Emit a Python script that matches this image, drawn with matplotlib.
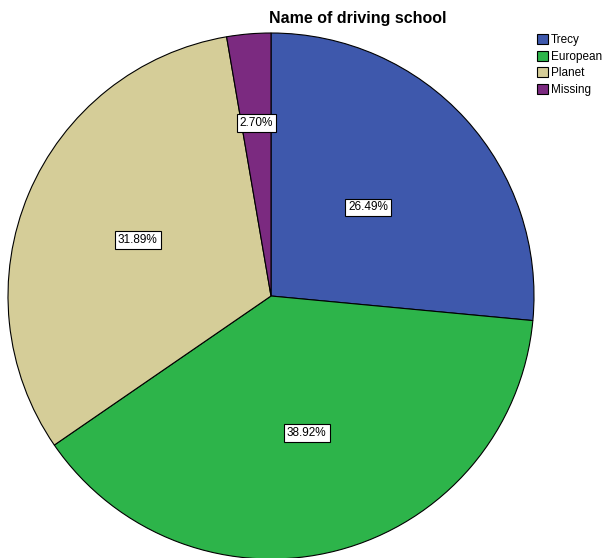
import numpy as np
import matplotlib
matplotlib.use("Agg")
import matplotlib.pyplot as plt

plt.rcParams["font.family"] = ["Liberation Sans", "DejaVu Sans"]

schools = ["Trecy", "European", "Planet", "Missing"]
percents = [26.49, 38.92, 31.89, 2.70]
colors = ["#3e58ac", "#2db44a", "#d5cd98", "#7b2a80"]
# radial position of each percentage box (fraction of the radius)
label_dist = [0.50, 0.54, 0.55, 0.66]

fig = plt.figure(figsize=(6.05, 5.58), dpi=100)
ax = fig.add_axes([8 / 605, (558 - 296 - 263) / 558, 526 / 605, 526 / 558])

wedges, _ = ax.pie(percents, colors=colors, startangle=90, counterclock=False,
                   radius=1.0, wedgeprops=dict(edgecolor="black", linewidth=0.8))

start = 90.0
for w, pct, d in zip(wedges, percents, label_dist):
    mid = np.deg2rad(start - pct * 3.6 / 2)
    start -= pct * 3.6
    ax.text(d * np.cos(mid), d * np.sin(mid), f"{pct:.2f}%", ha="center", va="center",
            fontsize=8.5, bbox=dict(boxstyle="square,pad=0.25", fc="white", ec="black", lw=0.8))

ax.set_xlim(-1, 1)
ax.set_ylim(-1, 1)
ax.set_aspect("equal")
ax.axis("off")

fig.text(358 / 605, 1 - 18 / 558, "Name of driving school", ha="center", va="center",
         fontsize=11.5, fontweight="bold")

fig.legend(wedges, schools, loc="upper left", bbox_to_anchor=(537 / 605, 1 - 34 / 558),
           frameon=False, fontsize=8.5, handlelength=0.9, handleheight=0.9,
           handletextpad=0.25, labelspacing=0.4, borderpad=0, borderaxespad=0)

fig.savefig("out.png", dpi=100)
